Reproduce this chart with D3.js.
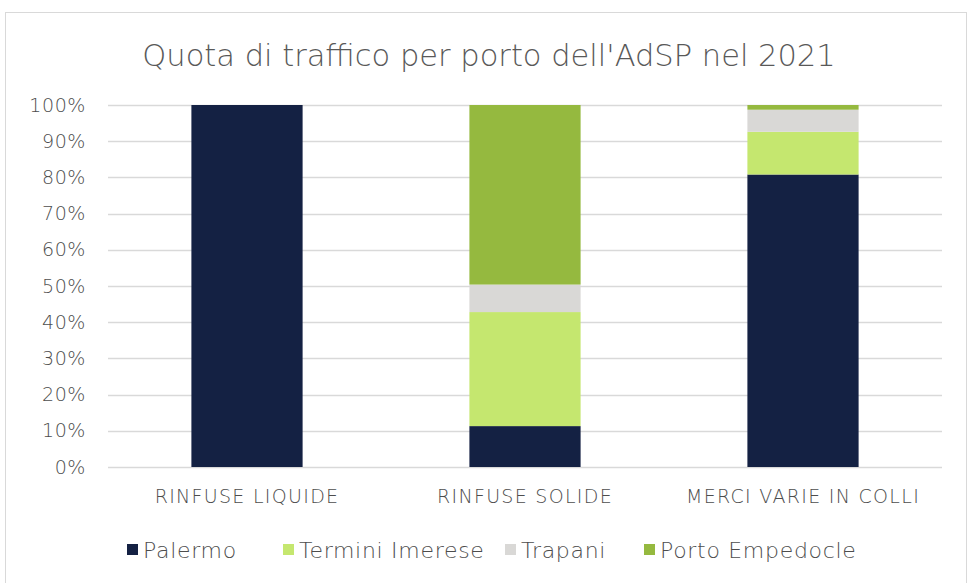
<!DOCTYPE html>
<html>
<head>
<meta charset="utf-8">
<script src="https://cdn.jsdelivr.net/npm/d3@7"></script>
<style>
  body { margin: 0; background: #fff; }
  svg { display: block; }
</style>
</head>
<body>
<script>
const width = 971;
const height = 583;

const categories = ['RINFUSE LIQUIDE', 'RINFUSE SOLIDE', 'MERCI VARIE IN COLLI'];
const ports = ['Palermo', 'Termini Imerese', 'Trapani', 'Porto Empedocle'];
const palermo = [1.0, 0.113, 0.808];
const termini = [0.0, 0.315, 0.118];
const trapani = [0.0, 0.076, 0.061];
const empedocle = [0.0, 0.496, 0.013];
const colors = ['#142143', '#c5e76f', '#d9d8d6', '#95b93f'];
const yTicks = [0, 0.1, 0.2, 0.3, 0.4, 0.5, 0.6, 0.7, 0.8, 0.9, 1.0];

const font = '"Century Gothic", "DejaVu Sans", sans-serif';
const textColor = '#595959';

const rows = categories.map((c, i) => ({
  category: c,
  'Palermo': palermo[i],
  'Termini Imerese': termini[i],
  'Trapani': trapani[i],
  'Porto Empedocle': empedocle[i],
}));

const series = d3.stack().keys(ports)(rows);

const margin = { top: 105, right: 29, bottom: 116, left: 108 };

const x = d3.scaleBand()
  .domain(categories)
  .range([margin.left, width - margin.right])
  .paddingInner(0.6)
  .paddingOuter(0.3);

const y = d3.scaleLinear()
  .domain([0, 1])
  .range([height - margin.bottom, margin.top]);

const color = d3.scaleOrdinal(ports, colors);

const svg = d3.select('body')
  .append('svg')
  .attr('width', width)
  .attr('height', height)
  .style('font-family', font);

// chart frame
svg.append('rect')
  .attr('x', 5.5)
  .attr('y', 12.5)
  .attr('width', 961)
  .attr('height', 580)
  .attr('fill', '#fff')
  .attr('stroke', '#d9d9d9');

svg.append('text')
  .attr('x', 489)
  .attr('y', 66)
  .attr('text-anchor', 'middle')
  .attr('fill', textColor)
  .style('font-size', '30.5px')
  .style('font-weight', 200)
  .text("Quota di traffico per porto dell'AdSP nel 2021");

// grid
svg.append('g')
  .selectAll('line')
  .data(yTicks)
  .join('line')
    .attr('x1', margin.left)
    .attr('x2', width - margin.right)
    .attr('y1', d => Math.round(y(d)) + 0.5)
    .attr('y2', d => Math.round(y(d)) + 0.5)
    .attr('stroke', '#d9d9d9')
    .attr('stroke-width', 1.5);

const yAxis = svg.append('g')
  .attr('transform', `translate(${margin.left},0)`)
  .call(d3.axisLeft(y).tickValues(yTicks).tickFormat(d3.format('.0%')).tickSize(0).tickPadding(22));
yAxis.select('.domain').remove();
yAxis.selectAll('text')
  .attr('fill', '#4d4d4d')
  .style('font-size', '19px')
  .style('font-weight', 200)
  .style('letter-spacing', '0.6px')
  .style('font-family', font);

svg.append('g')
  .selectAll('g')
  .data(series)
  .join('g')
    .attr('fill', d => color(d.key))
  .selectAll('rect')
  .data(d => d)
  .join('rect')
    .attr('x', d => x(d.data.category))
    .attr('y', d => y(d[1]))
    .attr('height', d => y(d[0]) - y(d[1]))
    .attr('width', x.bandwidth());

const xAxis = svg.append('g')
  .attr('transform', `translate(0,${height - margin.bottom})`)
  .call(d3.axisBottom(x).tickSize(0).tickPadding(23));
xAxis.select('.domain').remove();
xAxis.selectAll('text')
  .attr('fill', '#4d4d4d')
  .style('font-size', '19px')
  .style('font-weight', 200)
  .style('letter-spacing', '1.3px')
  .style('font-family', font);

// legend
const legendX = [127, 283, 505, 644];
const legend = svg.append('g')
  .selectAll('g')
  .data(ports)
  .join('g')
    .attr('transform', (d, i) => `translate(${legendX[i]},550)`);

legend.append('rect')
  .attr('y', -6)
  .attr('width', 11)
  .attr('height', 11)
  .attr('fill', d => color(d));

legend.append('text')
  .attr('x', 16)
  .attr('dy', '0.35em')
  .attr('fill', '#4d4d4d')
  .style('font-size', '22px')
  .style('font-weight', 200)
  .style('letter-spacing', '0.7px')
  .text(d => d);
</script>
</body>
</html>
